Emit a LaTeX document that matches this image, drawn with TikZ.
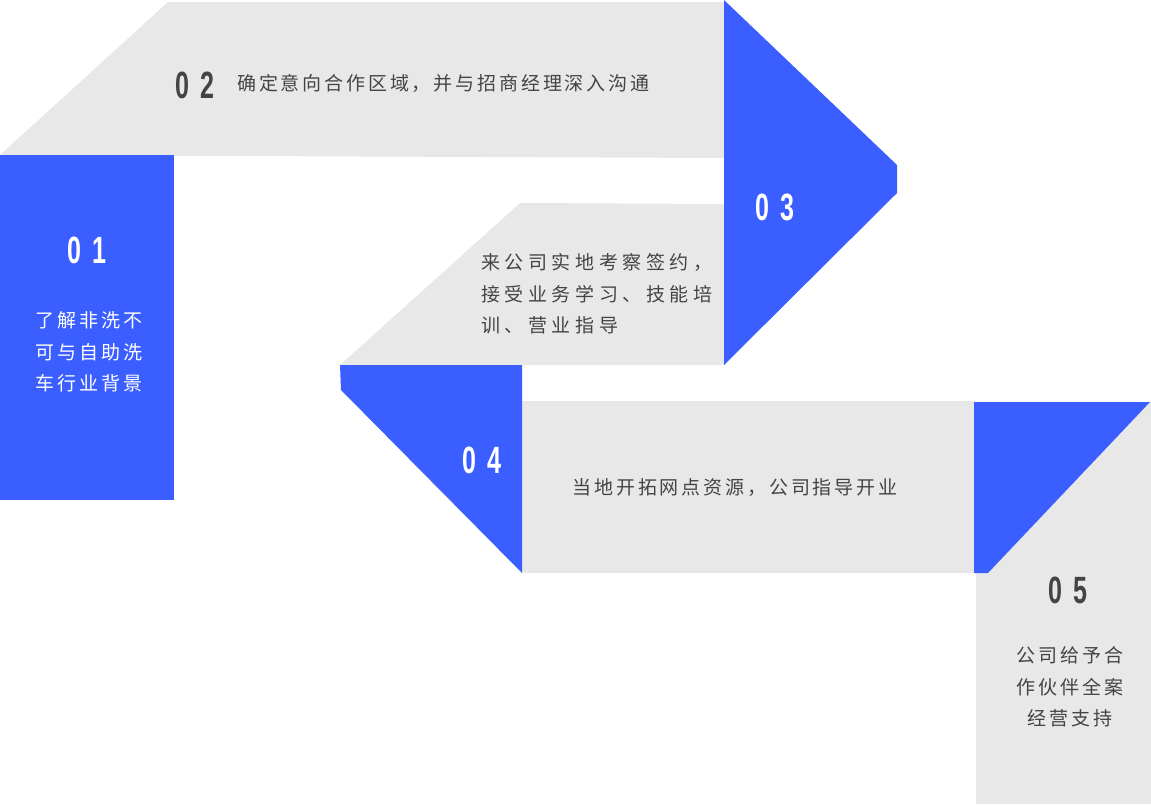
\documentclass[tikz,border=0pt]{standalone}
\usepackage{fontspec}
\usepackage{graphicx}
\newfontfamily\cjk{Noto Sans CJK SC}[LetterSpace=15]
\newfontfamily\cjkwide{Noto Sans CJK SC}[LetterSpace=24]
\newfontfamily\numfont{Liberation Sans}
\definecolor{stepblue}{RGB}{58,94,255}
\definecolor{bandgrey}{RGB}{232,232,232}
\definecolor{inkgrey}{RGB}{68,68,68}
\newcommand\stepno[2]{\scalebox{0.66}[1]{\bfseries #1\hspace{16pt}#2}}
\begin{document}
\begin{tikzpicture}
  [x=1pt,y=-1pt,
   band/.style={fill=bandgrey},
   accent/.style={fill=stepblue},
   numtxt/.style={inner sep=0pt,font=\numfont\fontsize{38}{38}\selectfont},
   cjktxt/.style={inner sep=0pt,font=\cjk\fontsize{19}{31.5}\selectfont}]
  \useasboundingbox (0,0) rectangle (1151,804);
  % grey bands
  \fill[band] (0,155) -- (168,2) -- (724,2) -- (724,158) -- cycle;
  \fill[band] (340,365) -- (520,203) -- (724,204) -- (724,365) -- cycle;
  \fill[band] (522,401) rectangle (975,573);
  \fill[band] (976,402) rectangle (1151,804);
  % blue folds
  \fill[accent] (0,155) rectangle (174,500);
  \fill[accent] (724,0) -- (897,165) -- (897,193) -- (724,365) -- cycle;
  \fill[accent] (340,365) -- (522,365) -- (522,573) -- (341,390) -- cycle;
  \fill[accent] (974,402) -- (1150,402) -- (988,573) -- (974,573) -- cycle;

  \node[numtxt,white] (n01) at (87,250) {\stepno01};
  \node[cjktxt,white,align=center] (t01) at (89,352) {了解非洗不\\可与自助洗\\车行业背景};
  \node[numtxt,inkgrey] (n02) at (195,85) {\stepno02};
  \node[cjktxt,inkgrey,anchor=west] (t02) at (237,83) {确定意向合作区域，并与招商经理深入沟通};
  \node[numtxt,white] (n03) at (775,207) {\stepno03};
  \node[cjktxt,inkgrey,align=left,anchor=west,font=\cjkwide\fontsize{19}{31.5}\selectfont] (t03) at (481,294) {来公司实地考察签约，\\接受业务学习、技能培\\训、营业指导};
  \node[numtxt,white] (n04) at (482,460) {\stepno04};
  \node[cjktxt,inkgrey] (t04) at (735,488) {当地开拓网点资源，公司指导开业};
  \node[numtxt,inkgrey] (n05) at (1068,590) {\stepno05};
  \node[cjktxt,inkgrey,align=center] (t05) at (1070,687) {公司给予合\\作伙伴全案\\经营支持};

\end{tikzpicture}
\end{document}
